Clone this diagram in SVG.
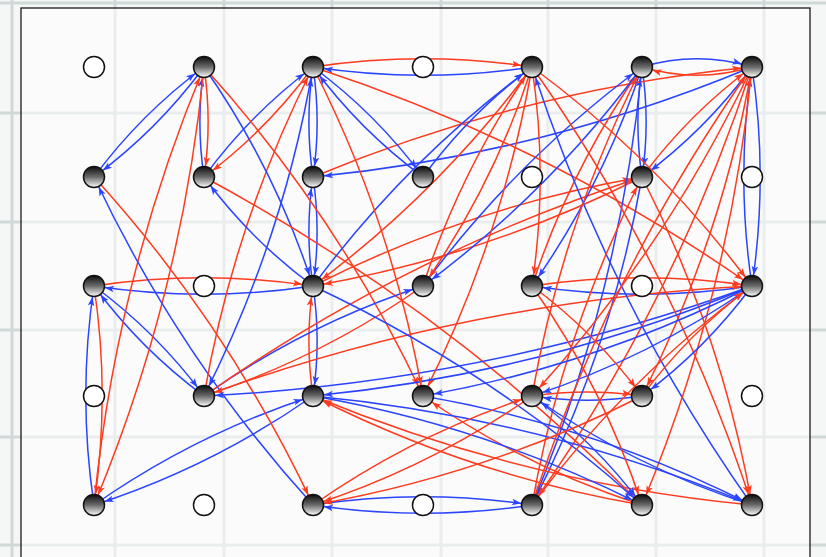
<svg xmlns="http://www.w3.org/2000/svg" width="826" height="557" viewBox="0 0 826 557">
<defs>
<linearGradient id="g" x1="0" y1="0" x2="0" y2="1">
<stop offset="0" stop-color="#0d0d0d"/><stop offset="0.5" stop-color="#6a6a6a"/><stop offset="1" stop-color="#ffffff"/>
</linearGradient>
<marker id="ar" markerUnits="userSpaceOnUse" markerWidth="20" markerHeight="20" refX="11" refY="0" orient="auto" overflow="visible"><path d="M0,0 L-9,-3.3 L-7,0 L-9,3.3 z" fill="#ff3b1f"/></marker>
<marker id="ab" markerUnits="userSpaceOnUse" markerWidth="20" markerHeight="20" refX="11" refY="0" orient="auto" overflow="visible"><path d="M0,0 L-9,-3.3 L-7,0 L-9,3.3 z" fill="#2a44ff"/></marker>
<style>
.r{fill:none;stroke:#ff3b1f;stroke-width:1.5;marker-end:url(#ar)}
.b{fill:none;stroke:#2a44ff;stroke-width:1.5;marker-end:url(#ab)}
.grid{stroke:#c9d1d1;stroke-width:3;opacity:0.8}
.f{fill:url(#g);stroke:#111;stroke-width:1.5}
.h{fill:#fff;stroke:#111;stroke-width:1.5}
</style>
</defs>
<rect width="826" height="557" fill="#f5f7f7"/>
<g class="grid">
<line x1="12" y1="0" x2="12" y2="557"/><line x1="115" y1="0" x2="115" y2="557"/><line x1="224" y1="0" x2="224" y2="557"/><line x1="332" y1="0" x2="332" y2="557"/><line x1="441" y1="0" x2="441" y2="557"/><line x1="548" y1="0" x2="548" y2="557"/><line x1="656" y1="0" x2="656" y2="557"/><line x1="764" y1="0" x2="764" y2="557"/>
<line x1="0" y1="3" x2="826" y2="3"/><line x1="0" y1="113" x2="826" y2="113"/><line x1="0" y1="222" x2="826" y2="222"/><line x1="0" y1="330" x2="826" y2="330"/><line x1="0" y1="437" x2="826" y2="437"/><line x1="0" y1="545" x2="826" y2="545"/>
</g>
<rect x="21" y="8" width="789" height="560" fill="#fff" fill-opacity="0.55" stroke="#1a1a1a" stroke-width="1.3"/>
<g id="edges">
<path class="r" d="M313 67 Q422.5 50.6 532 67"/>
<path class="b" d="M532 67 Q422.5 83.4 313 67"/>
<path class="b" d="M642 67 Q697 50.6 752 67"/>
<path class="r" d="M752 67 Q697 83.4 642 67"/>
<path class="b" d="M94 177 Q140.8 113.8 204 67"/>
<path class="b" d="M204 67 Q157.3 130.3 94 177"/>
<path class="b" d="M204 177 Q195.8 122 204 67"/>
<path class="r" d="M204 67 Q212.3 122 204 177"/>
<path class="b" d="M204 177 Q250.3 113.8 313 67"/>
<path class="r" d="M313 67 Q266.8 130.2 204 177"/>
<path class="b" d="M313 67 Q321.3 122 313 177"/>
<path class="b" d="M313 177 Q304.8 122 313 67"/>
<path class="b" d="M313 177 Q321.2 231.5 313 286"/>
<path class="b" d="M313 286 Q304.8 231.5 313 177"/>
<path class="r" d="M313 396 Q304.8 341 313 286"/>
<path class="b" d="M313 286 Q321.3 341 313 396"/>
<path class="r" d="M94 286 Q203.5 269.6 313 286"/>
<path class="b" d="M313 286 Q203.5 302.4 94 286"/>
<path class="b" d="M94 286 Q157.3 332.8 204 396"/>
<path class="b" d="M204 396 Q140.8 349.3 94 286"/>
<path class="b" d="M94 505 Q77.6 395.5 94 286"/>
<path class="r" d="M94 286 Q110.4 395.5 94 505"/>
<path class="b" d="M94 505 Q195.3 434.1 313 396"/>
<path class="b" d="M313 396 Q211.7 466.9 94 505"/>
<path class="r" d="M94 505 Q116.1 277.8 204 67"/>
<path class="r" d="M204 67 Q181.9 294.3 94 505"/>
<path class="r" d="M94 177 Q228.1 324.6 313 505"/>
<path class="b" d="M313 505 Q178.9 357.4 94 177"/>
<path class="b" d="M313 67 Q283.2 239.7 204 396"/>
<path class="r" d="M204 396 Q233.8 223.3 313 67"/>
<path class="b" d="M313 505 Q422.5 488.6 532 505"/>
<path class="b" d="M532 505 Q422.5 521.4 313 505"/>
<path class="b" d="M642 67 Q650.3 122 642 177"/>
<path class="b" d="M642 177 Q633.8 122 642 67"/>
<path class="b" d="M752 67 Q768.4 176.5 752 286"/>
<path class="b" d="M752 286 Q735.6 176.5 752 67"/>
<path class="r" d="M532 286 Q642 269.5 752 286"/>
<path class="b" d="M752 286 Q642 302.5 532 286"/>
<path class="r" d="M532 396 Q587 387.8 642 396"/>
<path class="b" d="M642 396 Q587 404.3 532 396"/>
<path class="r" d="M313 177 Q524.3 89.1 752 67"/>
<path class="b" d="M752 67 Q540.8 154.9 313 177"/>
<path class="r" d="M642 177 Q688.8 113.8 752 67"/>
<path class="b" d="M752 67 Q705.3 130.3 642 177"/>
<path class="r" d="M204 67 Q338.2 215.1 423 396"/>
<path class="b" d="M204 67 Q274.9 168.3 313 286"/>
<path class="b" d="M313 286 Q250.3 239.7 204 177"/>
<path class="r" d="M204 177 Q447.6 308.1 642 505"/>
<path class="b" d="M313 67 Q376.3 113.8 423 177"/>
<path class="b" d="M423 177 Q359.8 130.3 313 67"/>
<path class="r" d="M313 67 Q548.9 143.6 752 286"/>
<path class="b" d="M204 396 Q305.3 324.6 423 286"/>
<path class="r" d="M423 286 Q321.8 357.4 204 396"/>
<path class="r" d="M204 396 Q469.8 299.9 752 286"/>
<path class="b" d="M752 286 Q486.3 382.1 204 396"/>
<path class="r" d="M313 286 Q469.3 206.8 642 177"/>
<path class="r" d="M642 177 Q485.7 256.2 313 286"/>
<path class="r" d="M204 396 Q406.6 253.6 642 177"/>
<path class="b" d="M642 67 Q603.4 184.8 532 286"/>
<path class="r" d="M532 286 Q570.6 168.3 642 67"/>
<path class="b" d="M642 67 Q548.9 192.9 423 286"/>
<path class="b" d="M423 286 Q516.1 160.1 642 67"/>
<path class="b" d="M642 67 Q619.9 294.3 532 505"/>
<path class="b" d="M423 177 Q469.3 113.8 532 67"/>
<path class="r" d="M532 67 Q438.9 192.9 313 286"/>
<path class="b" d="M313 286 Q406.1 160.1 532 67"/>
<path class="r" d="M532 67 Q493.9 184.7 423 286"/>
<path class="r" d="M423 286 Q461.1 168.3 532 67"/>
<path class="r" d="M532 67 Q548.4 176.5 532 286"/>
<path class="r" d="M532 67 Q502.2 239.7 423 396"/>
<path class="r" d="M532 67 Q658.4 160 752 286"/>
<path class="r" d="M532 67 Q674.9 269.5 752 505"/>
<path class="b" d="M752 505 Q609.1 302.5 532 67"/>
<path class="r" d="M532 505 Q562.4 332.8 642 177"/>
<path class="b" d="M642 177 Q611.6 349.3 532 505"/>
<path class="r" d="M642 177 Q721.6 332.8 752 505"/>
<path class="r" d="M752 67 Q666.7 248 532 396"/>
<path class="r" d="M752 67 Q674.9 302.5 532 505"/>
<path class="r" d="M752 67 Q721.7 239.8 642 396"/>
<path class="r" d="M752 67 Q729.9 294.3 642 505"/>
<path class="b" d="M752 286 Q540.8 373.9 313 396"/>
<path class="b" d="M752 286 Q595.8 365.7 423 396"/>
<path class="b" d="M752 286 Q650.3 357.5 532 396"/>
<path class="b" d="M752 286 Q705.3 349.3 642 396"/>
<path class="r" d="M642 396 Q688.8 332.8 752 286"/>
<path class="r" d="M313 67 Q392.7 223.3 423 396"/>
<path class="r" d="M642 505 Q524.3 466.9 423 396"/>
<path class="r" d="M642 505 Q469.3 475.2 313 396"/>
<path class="r" d="M752 505 Q524.3 483.4 313 396"/>
<path class="b" d="M423 396 Q595.7 425.8 752 505"/>
<path class="b" d="M313 396 Q540.7 417.6 752 505"/>
<path class="b" d="M752 505 Q633.8 467 532 396"/>
<path class="b" d="M532 396 Q595.2 442.3 642 505"/>
<path class="b" d="M313 286 Q493.9 370.8 642 505"/>
<path class="b" d="M313 396 Q485.7 425.8 642 505"/>
<path class="r" d="M532 286 Q595.3 332.8 642 396"/>
<path class="r" d="M532 286 Q603.4 387.3 642 505"/>
<path class="r" d="M532 505 Q609.1 269.5 752 67"/>
<path class="r" d="M532 505 Q625.6 379 752 286"/>
<path class="r" d="M313 505 Q414.3 434.1 532 396"/>
<path class="r" d="M532 396 Q430.7 466.9 313 505"/>
<path class="r" d="M642 396 Q485.7 475.2 313 505"/>
<path class="r" d="M532 396 Q562.3 223.3 642 67"/>
</g>
<g id="n-A0"><circle class="h" cx="94" cy="67" r="10.5"/></g>
<g id="n-B0"><circle class="f" cx="204" cy="67" r="10.5"/></g>
<g id="n-C0"><circle class="f" cx="313" cy="67" r="10.5"/></g>
<g id="n-D0"><circle class="h" cx="423" cy="67" r="10.5"/></g>
<g id="n-E0"><circle class="f" cx="532" cy="67" r="10.5"/></g>
<g id="n-F0"><circle class="f" cx="642" cy="67" r="10.5"/></g>
<g id="n-G0"><circle class="f" cx="752" cy="67" r="10.5"/></g>
<g id="n-A1"><circle class="f" cx="94" cy="177" r="10.5"/></g>
<g id="n-B1"><circle class="f" cx="204" cy="177" r="10.5"/></g>
<g id="n-C1"><circle class="f" cx="313" cy="177" r="10.5"/></g>
<g id="n-D1"><circle class="f" cx="423" cy="177" r="10.5"/></g>
<g id="n-E1"><circle class="h" cx="532" cy="177" r="10.5"/></g>
<g id="n-F1"><circle class="f" cx="642" cy="177" r="10.5"/></g>
<g id="n-G1"><circle class="h" cx="752" cy="177" r="10.5"/></g>
<g id="n-A2"><circle class="f" cx="94" cy="286" r="10.5"/></g>
<g id="n-B2"><circle class="h" cx="204" cy="286" r="10.5"/></g>
<g id="n-C2"><circle class="f" cx="313" cy="286" r="10.5"/></g>
<g id="n-D2"><circle class="f" cx="423" cy="286" r="10.5"/></g>
<g id="n-E2"><circle class="f" cx="532" cy="286" r="10.5"/></g>
<g id="n-F2"><circle class="h" cx="642" cy="286" r="10.5"/></g>
<g id="n-G2"><circle class="f" cx="752" cy="286" r="10.5"/></g>
<g id="n-A3"><circle class="h" cx="94" cy="396" r="10.5"/></g>
<g id="n-B3"><circle class="f" cx="204" cy="396" r="10.5"/></g>
<g id="n-C3"><circle class="f" cx="313" cy="396" r="10.5"/></g>
<g id="n-D3"><circle class="f" cx="423" cy="396" r="10.5"/></g>
<g id="n-E3"><circle class="f" cx="532" cy="396" r="10.5"/></g>
<g id="n-F3"><circle class="f" cx="642" cy="396" r="10.5"/></g>
<g id="n-G3"><circle class="h" cx="752" cy="396" r="10.5"/></g>
<g id="n-A4"><circle class="f" cx="94" cy="505" r="10.5"/></g>
<g id="n-B4"><circle class="h" cx="204" cy="505" r="10.5"/></g>
<g id="n-C4"><circle class="f" cx="313" cy="505" r="10.5"/></g>
<g id="n-D4"><circle class="h" cx="423" cy="505" r="10.5"/></g>
<g id="n-E4"><circle class="f" cx="532" cy="505" r="10.5"/></g>
<g id="n-F4"><circle class="f" cx="642" cy="505" r="10.5"/></g>
<g id="n-G4"><circle class="f" cx="752" cy="505" r="10.5"/></g>
</svg>
